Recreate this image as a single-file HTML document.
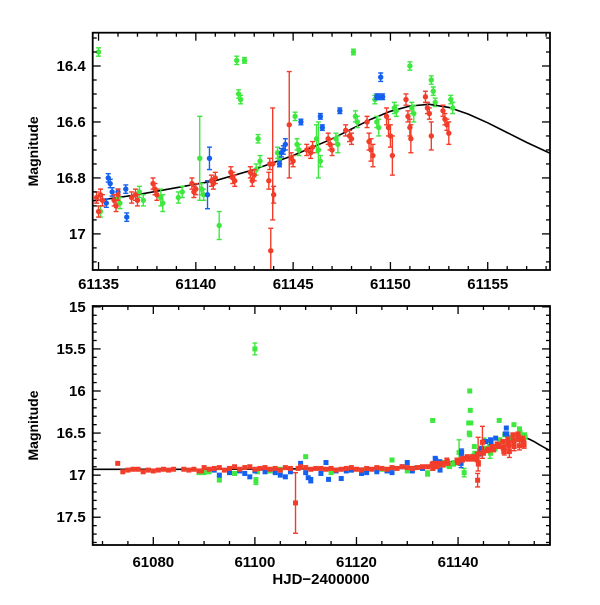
<!DOCTYPE html>
<html><head><meta charset="utf-8"><style>
body{margin:0;background:#fff;}
svg text{font-family:"Liberation Sans",sans-serif;font-weight:bold;fill:#000;}
</style></head><body>
<svg id="chart" width="600" height="600" viewBox="0 0 600 600" xmlns="http://www.w3.org/2000/svg"></svg>
<script>
// ---- data ----
const curveX=[61068,61090,61110,61125,61130,61133,61135,61137,61139,61141,61143,61145,61147,61148,61149,61150,61151,61152,61153,61154,61155,61156,61157,61158.3];
const curveY=[16.93,16.93,16.925,16.915,16.905,16.89,16.88,16.86,16.835,16.81,16.77,16.72,16.66,16.625,16.59,16.562,16.543,16.537,16.548,16.572,16.603,16.638,16.673,16.715];
const redPts=[[61073,16.86,.01],[61074,16.96,.01],[61075,16.94,.01],[61076,16.93,.01],[61077,16.93,.01],[61078,16.96,.01],[61079,16.94,.01],[61080,16.95,.01],[61081,16.94,.01],[61082,16.93,.01],[61083,16.94,.01],[61084,16.93,.01],[61086,16.93,.01],[61087,16.94,.01],[61088,16.93,.01],[61089,16.95,.01],[61089.5,16.95,.01],
[61090,16.91,.02],[61091,16.93,.02],[61092,16.92,.02],[61093,16.91,.02],[61094,16.94,.02],[61095,16.92,.02],[61096,16.9,.02],[61097,16.93,.02],[61098,16.91,.02],[61099,16.9,.02],[61100,16.93,.02],[61101,16.92,.02],[61102,16.91,.02],[61103,16.93,.02],[61104,16.92,.02],[61105,16.94,.02],[61106,16.91,.02],[61107,16.92,.02],[61108,17.33,.36],[61108.5,16.92,.02],[61109,16.9,.02],[61110,16.91,.02],[61111,16.93,.02],[61112,16.92,.02],[61113,16.92,.02],[61114,16.93,.02],[61115,16.92,.02],[61116,16.94,.02],[61117,16.93,.02],[61118,16.92,.02],[61119,16.91,.02],[61120,16.93,.02],[61121,16.94,.02],[61122,16.92,.02],[61123,16.93,.02],[61124,16.91,.02],[61125,16.92,.02],[61126,16.93,.02],[61127,16.91,.02],[61128,16.92,.02],[61129,16.9,.02],[61130,16.91,.02],[61131,16.92,.02],[61132,16.91,.02],[61133,16.9,.02],[61134,16.9,.02],
[61134.9,16.87,.02],[61135,16.92,.02],[61135.1,16.86,.02],[61135.2,16.88,.02],[61135.8,16.88,.02],[61135.9,16.9,.02],[61136,16.86,.02],[61136.7,16.87,.02],[61136.9,16.86,.02],[61137,16.88,.02],[61137.8,16.82,.02],[61137.9,16.84,.02],[61138,16.86,.02],[61139.8,16.82,.02],[61139.9,16.85,.02],[61140,16.84,.02],[61140.8,16.81,.02],[61140.9,16.82,.02],[61141,16.8,.02],[61141.8,16.78,.02],[61141.9,16.8,.02],[61142,16.81,.02],[61142.8,16.78,.02],[61142.9,16.81,.02],[61143,16.79,.02],[61143.8,16.75,.02],[61143.75,16.81,.03],[61144,16.86,.03],[61143.85,17.06,.08],[61143.95,16.75,.2],[61144.8,16.61,.19],[61144.9,16.73,.02],[61145,16.74,.02],[61145.7,16.7,.02],[61145.9,16.71,.02],[61146,16.69,.02],[61146.8,16.66,.02],[61146.9,16.68,.02],[61147,16.7,.02],[61147.7,16.63,.02],[61147.9,16.65,.02],[61148,16.66,.02],[61148.8,16.6,.02],[61148.9,16.67,.03],[61149,16.7,.04],[61149.1,16.72,.04],[61149.8,16.58,.03],[61149.9,16.62,.03],[61150,16.65,.04],[61150.1,16.72,.07],[61150.8,16.52,.02],[61150.9,16.58,.02],[61151,16.62,.03],[61151.05,16.66,.05],[61151.8,16.51,.02],[61151.9,16.55,.02],[61152,16.57,.02],[61152.1,16.65,.05],[61152.7,16.56,.02],[61152.8,16.59,.02],[61152.9,16.61,.02],[61153,16.64,.04]];
const greenPts=[[61089,16.97,.01],[61090,16.97,.01],[61091,16.96,.01],[61093,17.05,.03],[61096,16.98,.01],[61100,15.5,.07],[61100.2,17.07,.04],[61100.5,16.96,.02],[61103,16.95,.01],[61105,16.93,.01],[61110,16.78,.01],[61114,16.85,.01],[61115,16.97,.01],[61119,16.94,.01],[61122,16.94,.01],[61125,16.93,.01],[61127,16.82,.01],[61130,16.95,.01],[61134,16.98,.03],[61142.3,16.0,.01],[61142.4,16.23,.01],[61142.5,16.38,.01],
[61135,16.35,.015],[61135.1,16.92,.02],[61136,16.87,.02],[61136.1,16.89,.02],[61137.1,16.85,.02],[61137.3,16.88,.02],[61138.2,16.87,.03],[61138.3,16.89,.03],[61139.1,16.87,.02],[61139.3,16.85,.02],[61140.2,16.73,.15],[61140.3,16.84,.02],[61140.4,16.86,.02],[61141.2,16.97,.05],[61142.1,16.38,.015],[61142.2,16.5,.015],[61142.3,16.52,.015],[61143.2,16.66,.015],[61143.3,16.74,.02],[61143.1,16.77,.02],[61144.2,16.71,.02],[61144.3,16.73,.02],[61145.1,16.58,.015],[61145.2,16.68,.02],[61145.3,16.7,.02],[61146.2,16.66,.05],[61146.3,16.7,.1],[61146.4,16.74,.02],[61147.2,16.66,.02],[61147.3,16.68,.03],[61148.1,16.35,.01],[61148.2,16.58,.02],[61148.3,16.6,.02],[61149.2,16.52,.015],[61149.3,16.6,.02],[61149.4,16.62,.03],[61150.2,16.55,.02],[61150.3,16.56,.02],[61151,16.4,.015],[61151.1,16.55,.02],[61151.2,16.57,.03],[61152.1,16.45,.015],[61152.2,16.49,.015],[61152.3,16.53,.015],[61153.1,16.52,.015],[61153.2,16.55,.02]];
const bluePts=[[61092,16.94,.01],[61093,17.0,.01],[61095,16.97,.01],[61097,16.95,.01],[61098,16.98,.01],[61099,17.02,.01],[61100,16.95,.01],[61102,16.96,.01],[61104,16.97,.01],[61105,17.0,.01],[61106,17.02,.01],[61107,16.96,.01],[61109,16.86,.01],[61110,16.97,.01],[61110.5,17.03,.02],[61111,17.06,.03],[61113,16.98,.01],[61114,16.85,.01],[61114.5,17.05,.02],[61116,16.95,.01],[61117,17.04,.01],[61118,16.95,.01],[61119,16.94,.01],[61121,16.98,.01],[61122,16.97,.01],[61124,16.96,.01],[61126,16.95,.01],[61127,16.97,.01],[61129,16.9,.01],[61130,16.85,.01],[61131,16.95,.01],[61133,16.92,.01],[61136,16.85,.01],
[61135.5,16.8,.015],[61135.6,16.82,.015],[61135.7,16.85,.015],[61135.4,16.89,.015],[61136.4,16.84,.015],[61136.45,16.94,.015],[61140.6,16.86,.05],[61140.7,16.73,.04],[61144.4,16.71,.015],[61144.5,16.7,.015],[61144.6,16.68,.02],[61144.3,16.75,.01],[61145.4,16.6,.01],[61146.4,16.58,.01],[61146.5,16.62,.01],[61147.4,16.56,.01],[61149.3,16.51,.01],[61149.4,16.51,.01],[61149.5,16.44,.015],[61149.6,16.51,.01]];
const topXTicks=["61135","61140","61145","61150","61155"];
const topYTicks=["16.4","16.6","16.8","17"];
const botXTicks=["61080","61100","61120","61140"];
const botYTicks=["15","15.5","16","16.5","17","17.5"];

const NS="http://www.w3.org/2000/svg";
const svg=document.getElementById('chart');
function mk(tag,attrs,parent){const e=document.createElementNS(NS,tag);for(const k in attrs)e.setAttribute(k,attrs[k]);(parent||svg).appendChild(e);return e;}
const COL={red:"#f23d2a",green:"#3ee83e",blue:"#1560ee"};

function panel(p){
  const g=mk('g',{});
  
  
  const sx=v=>p.x0+(v-p.xmin)/(p.xmax-p.xmin)*(p.x1-p.x0);
  const sy=v=>p.y0+(v-p.ymin)/(p.ymax-p.ymin)*(p.y1-p.y0);
  const cid='clip-'+p.name;
  const cp=mk('clipPath',{id:cid},g);mk('rect',{x:p.x0,y:p.y0,width:p.x1-p.x0,height:p.y1-p.y0},cp);
  const data=mk('g',{'clip-path':'url(#'+cid+')'},g);
  let d=curveX.map((x,i)=>(i?'L':'M')+sx(x).toFixed(1)+' '+sy(curveY[i]).toFixed(1)).join(' ');
  const c=mk('path',{d:d,fill:'none',stroke:'#000','stroke-width':1.6},data);
  
  
  for(const [nm,pts] of [['green',greenPts],['blue',bluePts],['red',redPts]]){
    const sg=mk('g',{fill:COL[nm],stroke:COL[nm],'stroke-width':1.4},data);
    
    
    for(const [x,y,e] of pts){
      const X=sx(x),Y=sy(y),Ya=sy(y-e),Yb=sy(y+e);
      if(Math.abs(Yb-Ya)>4){
        mk('line',{x1:X,x2:X,y1:Ya,y2:Yb},sg);
        mk('line',{x1:X-2.5,x2:X+2.5,y1:Ya,y2:Ya},sg);
        mk('line',{x1:X-2.5,x2:X+2.5,y1:Yb,y2:Yb},sg);
      }
      let m;
      if(p.square) m=mk('rect',{x:X-2.5,y:Y-2.5,width:5,height:5,stroke:'none'},sg);
      else m=mk('circle',{cx:X,cy:Y,r:2.7,stroke:'none'},sg);
      
      
    }
  }
  const tk=mk('g',{stroke:'#000','stroke-width':1.3},g);
  for(let v=Math.ceil(p.xmin/p.xminor)*p.xminor;v<=p.xmax;v+=p.xminor){
    const X=sx(v);const maj=Math.abs(v/p.xmajor-Math.round(v/p.xmajor))<1e-6;const L=maj?8:4;
    mk('line',{x1:X,x2:X,y1:p.y1,y2:p.y1-L},tk);mk('line',{x1:X,x2:X,y1:p.y0,y2:p.y0+L},tk);
  }
  for(let i=Math.ceil(p.ymin/p.yminor-1e-6);i*p.yminor<=p.ymax+1e-9;i++){
    const v=i*p.yminor;const Y=sy(v);const maj=Math.abs(v/p.ymajor-Math.round(v/p.ymajor))<1e-6;const L=maj?8:4;
    mk('line',{x1:p.x0,x2:p.x0+L,y1:Y,y2:Y},tk);mk('line',{x1:p.x1,x2:p.x1-L,y1:Y,y2:Y},tk);
  }
  const fr=mk('rect',{x:p.x0,y:p.y0,width:p.x1-p.x0,height:p.y1-p.y0,fill:'none',stroke:'#000','stroke-width':1.8},g);
  
  
  for(const t of p.xt){const e=mk('text',{x:sx(+t),y:p.y1+p.xlo,'text-anchor':'middle','font-size':15},g);e.textContent=t;
    
    }
  for(const t of p.yt){const e=mk('text',{x:p.x0-7,y:sy(+t)+5,'text-anchor':'end','font-size':15},g);e.textContent=t;
    
    }
  const yl=mk('text',{x:0,y:0,transform:'translate(38,'+((p.y0+p.y1)/2)+') rotate(-90)','text-anchor':'middle','font-size':14},g);
  yl.textContent='Magnitude';
  
  
}
panel({name:'top-panel',x0:92.7,x1:550,y0:32.7,y1:270,xmin:61134.7,xmax:61158.2,ymin:16.281,ymax:17.129,xminor:1,xmajor:5,yminor:0.05,ymajor:0.2,xt:topXTicks,yt:topYTicks,square:false,xlo:19});
panel({name:'bottom-panel',x0:92.7,x1:550,y0:306,y1:545,xmin:61068.07,xmax:61158.1,ymin:14.99,ymax:17.83,xminor:5,xmajor:20,yminor:0.1,ymajor:0.5,xt:botXTicks,yt:botYTicks,square:true,xlo:22});
const xl=mk('text',{x:321,y:584,'text-anchor':'middle','font-size':15});
xl.textContent='HJD\u22122400000';


</script>
</body></html>
